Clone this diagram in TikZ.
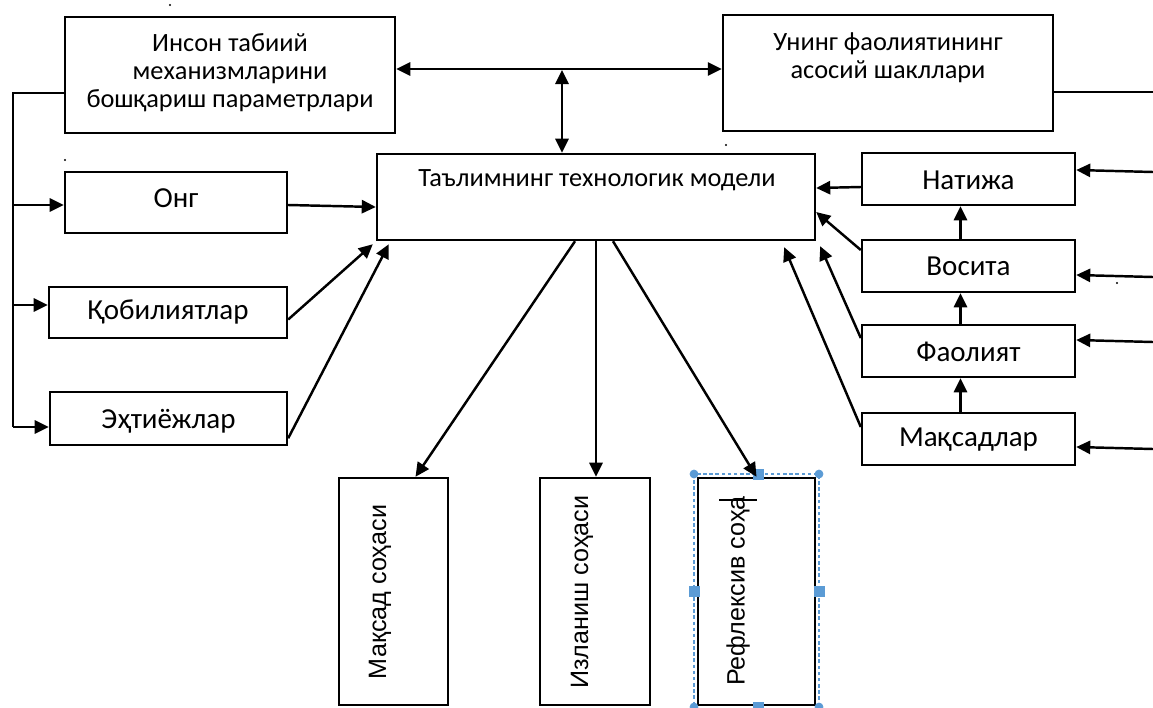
\documentclass[tikz,border=0pt]{standalone}
\usepackage{fontspec}
\setmainfont{Carlito}
\newfontfamily\arialf{Liberation Sans}
\usetikzlibrary{arrows.meta,calc}
\definecolor{selblue}{RGB}{91,155,213}
\begin{document}
\begin{tikzpicture}[x=0.02cm,y=-0.02cm,
  box/.style={draw, line width=1.4pt, inner sep=0pt},
  lbl/.style={font=\fontsize{15}{15.9}\selectfont, align=center, inner sep=0pt},
  slbl/.style={font=\fontsize{16.5}{18}\selectfont, align=center, inner sep=0pt},
  vlbl/.style={font=\arialf\fontsize{14.3}{16}\selectfont, rotate=90, inner sep=0pt},
  tip/.style={-{Triangle[length=8pt,width=7.5pt]}},
  conn/.style={line width=1.4pt, tip},
  conn2/.style={line width=1.4pt, {Triangle[length=8pt,width=7.5pt]}-{Triangle[length=8pt,width=7.5pt]}},
  line/.style={line width=1.4pt},
  handle/.style={fill=selblue, draw=selblue, line width=0.4pt}
]
\useasboundingbox (0,0) rectangle (1153,707);

% top boxes
\node[box, minimum width=6.6cm, minimum height=2.32cm] (top1) at (230,75) {};
\node[lbl] (top1t) at (230,73) {Инсон табиий\\механизмларини\\бошқариш параметрлари};
\node[box, minimum width=6.6cm, minimum height=2.32cm] (top2) at (888,73) {};
\node[lbl] (top2t) at (888,58) {Унинг фаолиятининг\\асосий шакллари};

% central box
\node[box, minimum width=8.76cm, minimum height=1.72cm] (M) at (596,197) {};
\node[lbl] (Mt) at (597,180) {Таълимнинг технологик модели};

% left boxes
\node[box, minimum width=4.44cm, minimum height=1.22cm] (ong) at (176,202.5) {};
\node[slbl] (ongt) at (176,198) {Онг};
\node[box, minimum width=4.76cm, minimum height=1.02cm] (qob) at (168,312.5) {};
\node[slbl] (qobt) at (168,312) {Қобилиятлар};
\node[box, minimum width=4.74cm, minimum height=1.06cm] (eht) at (168.5,418.5) {};
\node[slbl] (ehtt) at (168.5,421) {Эҳтиёжлар};

% right boxes
\node[box, minimum width=4.26cm, minimum height=1.04cm] (nat) at (968.5,179) {};
\node[slbl] (natt) at (968.5,180) {Натижа};
\node[box, minimum width=4.26cm, minimum height=1.04cm] (vos) at (968.5,266) {};
\node[slbl] (vost) at (968.5,266) {Восита};
\node[box, minimum width=4.26cm, minimum height=1.04cm] (fao) at (968.5,351) {};
\node[slbl] (faot) at (968.5,352) {Фаолият};
\node[box, minimum width=4.26cm, minimum height=1.04cm] (maq) at (968.5,439) {};
\node[slbl] (maqt) at (968.5,440) {Мақсадлар};

% bottom boxes
\node[box, minimum width=2.18cm, minimum height=4.54cm] (mak) at (393.5,591.5) {};
\node[vlbl] (makt) at (380,592) {Мақсад соҳаси};
\node[box, minimum width=2.2cm, minimum height=4.54cm] (izl) at (595,591.5) {};
\node[vlbl] (izlt) at (582,592) {Изланиш соҳаси};
\node[box, minimum width=2.34cm, minimum height=4.54cm] (ref) at (756.5,591.5) {};
\node[vlbl] (reft) at (738,591) {Рефлексив соҳа};

% selection frame (as in the reference)
\draw[selblue, dashed, line width=0.6pt, dash pattern=on 2pt off 1.5pt] (694,474) rectangle (819,712);
\fill[handle] (694,474) circle (4);
\fill[handle] (819,474) circle (4);
\fill[handle] (694,707) circle (4);
\fill[handle] (819,707) circle (4);
\filldraw[handle] (753,469) rectangle (763,479);
\filldraw[handle] (689,586) rectangle (699,596);
\filldraw[handle] (814,586) rectangle (824,596);
\filldraw[handle] (753,702) rectangle (763,712);
\draw[line width=0.8pt] (719,500) -- (757,500);

% top connectors
\coordinate (h) at (562,69);
\draw[conn2] (h -| top1.east) -- (h -| top2.west);
\draw[conn2] ($(h)+(0,1)$) -- (h |- M.north);
\coordinate (r0) at (1153,92);
\draw[line] (r0 -| top2.east) -- (r0);

% left bus
\coordinate (L) at (13,93);
\coordinate (l1) at (13,205);
\coordinate (l2) at (13,305);
\coordinate (l3) at (13,427);
\draw[line] (L -| top1.west) -- (L) -- (l3);
\draw[conn] (l1) -- (l1 -| ong.west);
\draw[conn] (l2) -- (l2 -| qob.west);
\draw[conn] (l3) -- (l3 -| eht.west);

% left boxes to centre
\draw[conn] (l1 -| ong.east) -- ($(M.west)+(0,10)$);
\draw[conn] ($(qob.east)+(0,7)$) -- ($(M.south west)+(-3,3)$);
\draw[conn] ($(eht.south east)+(0,-8)$) -- ($(M.south west)+(13,3)$);

% centre to bottom
\draw[conn] ($(M.south)+(-21,0)$) -- ($(mak.north)+(22,0)$);
\draw[conn] (M.south) -- (izl.north -| M.south);
\draw[conn] ($(M.south)+(17,0)$) -- (ref.north);

% right boxes to centre
\draw[conn] ($(nat.west)+(0,8)$) -- ($(M.east)+(0,-9)$);
\draw[conn] ($(vos.west)+(0,-16)$) -- ($(M.east)+(0,15)$);
\draw[conn] ($(fao.west)+(0,-13)$) -- ($(M.south east)+(4,5)$);
\draw[conn] ($(maq.west)+(0,-12)$) -- ($(M.south east)+(-32,6)$);

% chain between right boxes
\draw[conn] ($(maq.north)+(-8,0)$) -- ($(fao.south)+(-8,0)$);
\draw[conn] ($(fao.north)+(-8,0)$) -- ($(vos.south)+(-8,0)$);
\draw[conn] ($(vos.north)+(-8,0)$) -- ($(nat.south)+(-8,0)$);

% inputs from the right edge
\coordinate (r1) at (1153,172);
\coordinate (r2) at (1153,277);
\coordinate (r3) at (1153,342);
\coordinate (r4) at (1153,449);
\draw[conn] (r1) -- ($(nat.east)+(0,-9)$);
\draw[conn] (r2) -- ($(vos.east)+(0,9)$);
\draw[conn] (r3) -- ($(fao.east)+(0,-11)$);
\draw[conn] (r4) -- ($(maq.east)+(0,8)$);

% stray specks
\fill (170,5) circle (1.2);
\fill (65,160) circle (1.2);
\fill (726,145) circle (1.2);
\fill (1117,283) circle (1.2);
\end{tikzpicture}
\end{document}
